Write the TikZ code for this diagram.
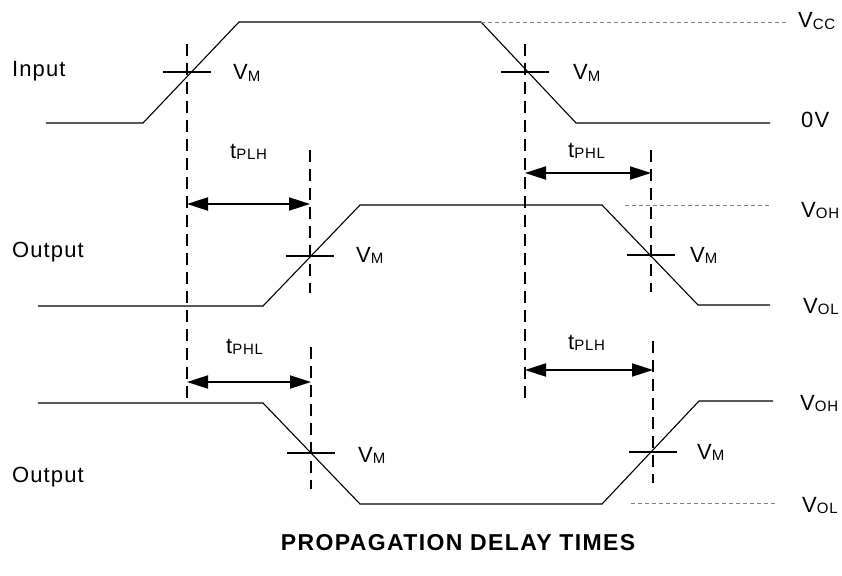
\documentclass[tikz,border=0pt]{standalone}
\usepackage{fontspec}
\setmainfont{Liberation Sans}[LetterSpace=5]
\newfontfamily\titlefont{Liberation Sans}[LetterSpace=6]
\usetikzlibrary{arrows.meta}

% small lowered index letters (V_M, t_PLH, ...)
\newcommand{\lo}[1]{\raisebox{-1.5pt}{\fontsize{15}{15}\selectfont #1}}

\begin{document}
\begin{tikzpicture}[x=1pt,y=-1pt,
    wave/.style={line width=1.1pt},
    marker/.style={line width=1.8pt, dash pattern=on 12pt off 7pt},
    level/.style={gray, line width=0.8pt, dash pattern=on 4pt off 3pt},
    delay/.style={{Triangle[length=21pt,width=13pt]}-{Triangle[length=21pt,width=13pt]}, line width=2pt},
    lbl/.style={font=\fontsize{22}{26}\selectfont, inner sep=0pt, anchor=base west}]

    \useasboundingbox (0,0) rectangle (842,575);

    % Threshold crossings
    \coordinate (inR) at (187,72);
    \coordinate (inF) at (525,72);
    \coordinate (oaR) at (310,256);
    \coordinate (oaF) at (651,255);
    \coordinate (obF) at (311,453);
    \coordinate (obR) at (653,452);

    % Waveforms
    \draw[wave] (46,123) -- (143,123) -- (239,22) -- (481,22) -- (576,123) -- (770,123);
    \draw[wave] (38,306) -- (263,306) -- (360,205) -- (602,205) -- (698,305) -- (770,305);
    \draw[wave] (38,403) -- (263,403) -- (360,504) -- (602,504) -- (699,401) -- (773,401);

    % Reference levels
    \draw[level] (481,22) -- (787,22);
    \draw[level] (625,205) -- (770,205);
    \draw[level] (631,503) -- (776,503);

    % V_M ticks
    \foreach \p in {inR,inF,oaR,oaF,obF,obR}
        \draw[wave] ([xshift=-24pt]\p) -- ([xshift=24pt]\p);

    % Dashed markers
    \draw[marker] (inR |- 0,44) -- (inR |- 0,400);
    \draw[marker] (inF |- 0,44) -- (inF |- 0,400);
    \draw[marker] (oaR |- 0,150) -- (oaR |- 0,293);
    \draw[marker] (oaF |- 0,150) -- (oaF |- 0,292);
    \draw[marker] (obF |- 0,347) -- (obF |- 0,489);
    \draw[marker] (obR |- 0,341) -- (obR |- 0,483);

    % Delay arrows
    \draw[delay] (inR |- 0,204) -- (oaR |- 0,204);
    \draw[delay] (inF |- 0,173) -- (oaF |- 0,173);
    \draw[delay] (inR |- 0,382) -- (obF |- 0,382);
    \draw[delay] (inF |- 0,370) -- (obR |- 0,370);

    % Signal names
    \node[lbl] (input) at (12,77) {Input};
    \node[lbl] (outa) at (12,257) {Output};
    \node[lbl] (outb) at (12,482) {Output};

    % V_M labels
    \node[lbl] (vmA) at (233,80) {V\lo{M}};
    \node[lbl] (vmB) at (573,80) {V\lo{M}};
    \node[lbl] (vmC) at (356,262) {V\lo{M}};
    \node[lbl] (vmD) at (690,262) {V\lo{M}};
    \node[lbl] (vmE) at (358,462) {V\lo{M}};
    \node[lbl] (vmF) at (697,459) {V\lo{M}};

    % Delay labels
    \node[lbl] (tA) at (230,158) {t\lo{PLH}};
    \node[lbl] (tB) at (568,157) {t\lo{PHL}};
    \node[lbl] (tC) at (226,353) {t\lo{PHL}};
    \node[lbl] (tD) at (568,349) {t\lo{PLH}};

    % Level labels
    \node[lbl] (vcc) at (798,28) {V\lo{CC}};
    \node[lbl] (zero) at (801,128) {0V};
    \node[lbl] (vohA) at (801,217) {V\lo{OH}};
    \node[lbl] (volA) at (803,313) {V\lo{OL}};
    \node[lbl] (vohB) at (800,410) {V\lo{OH}};
    \node[lbl] (volB) at (802,512) {V\lo{OL}};

    \node[font=\titlefont\fontsize{23}{27}\selectfont\bfseries, anchor=base] (title) at (458,550) {PROPAGATION DELAY TIMES};

\end{tikzpicture}
\end{document}
